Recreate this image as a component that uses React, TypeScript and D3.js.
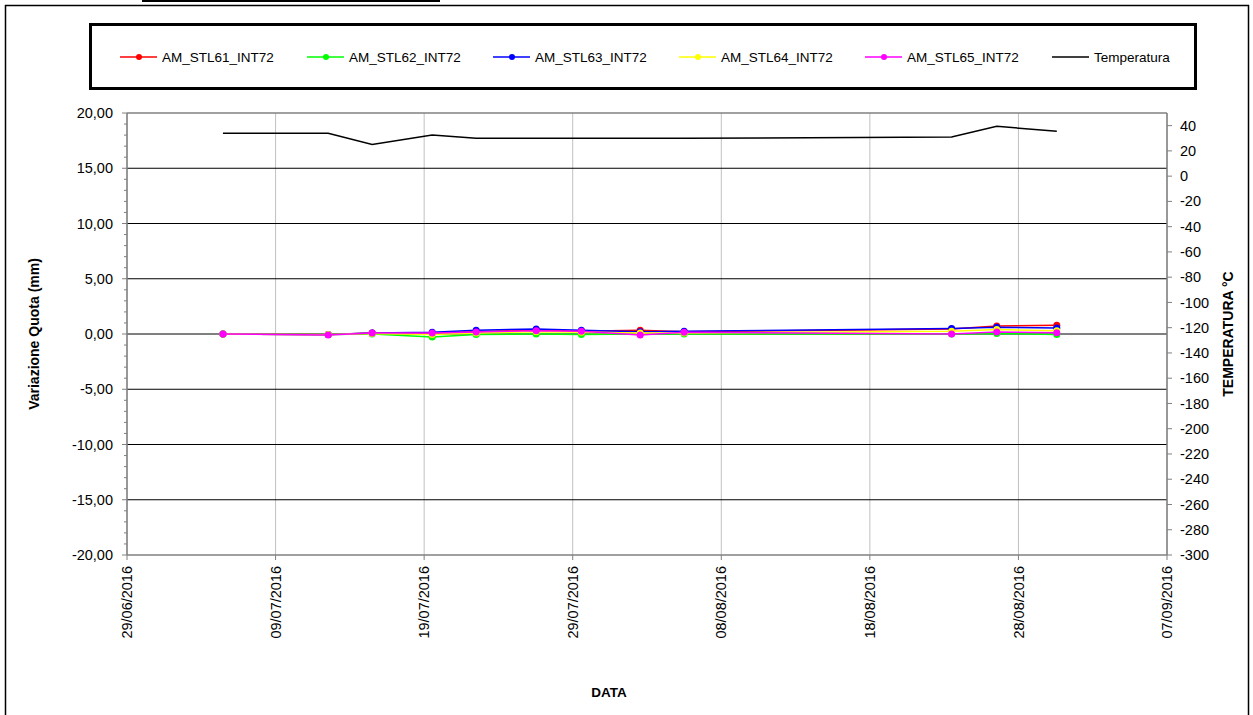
import React from "react";
import * as d3 from "d3";

const DATES = [
  "2016-07-05T11:00", "2016-07-12T13:00", "2016-07-15T12:00", "2016-07-19T13:00",
  "2016-07-22T12:00", "2016-07-26T13:00", "2016-07-29T14:00", "2016-08-02T13:00",
  "2016-08-05T12:00", "2016-08-23T12:00", "2016-08-26T13:00", "2016-08-30T14:00",
];
const STL61 = [0.0, -0.05, 0.1, 0.1, 0.2, 0.35, 0.25, 0.35, 0.2, 0.45, 0.72, 0.8];
const STL62 = [0.0, -0.05, 0.0, -0.27, -0.05, 0.0, -0.05, 0.0, 0.0, 0.0, 0.05, -0.05];
const STL63 = [0.0, -0.05, 0.1, 0.15, 0.35, 0.45, 0.35, 0.2, 0.25, 0.5, 0.6, 0.55];
const STL64 = [0.0, -0.05, 0.05, -0.05, 0.1, 0.2, 0.15, 0.1, 0.1, 0.25, 0.4, 0.3];
const STL65 = [0.0, -0.1, 0.1, 0.1, 0.18, 0.3, 0.25, -0.1, 0.15, 0.0, 0.18, 0.12];
const TEMPERATURA = [34, 34, 25, 32.5, 30, 30, 30, 30, 30, 31, 39.5, 35.5];

const SERIES_NAMES = ["AM_STL61_INT72", "AM_STL62_INT72", "AM_STL63_INT72", "AM_STL64_INT72", "AM_STL65_INT72"];
const SERIES_VALUES = [STL61, STL62, STL63, STL64, STL65];
const SERIES_COLORS = ["#ff0000", "#00ff00", "#0000ff", "#ffff00", "#ff00ff"];

const X_TICKS = ["2016-06-29", "2016-07-09", "2016-07-19", "2016-07-29", "2016-08-08", "2016-08-18", "2016-08-28", "2016-09-07"];
const LEFT_TICKS = [-20, -15, -10, -5, 0, 5, 10, 15, 20];
const RIGHT_TICKS = d3.range(-300, 41, 20);

const FONT = "'Liberation Sans', Arial, sans-serif";

const parse = (s: string) => new Date(s.length > 10 ? s + ":00Z" : s + "T00:00:00Z");

export default function App() {
  const L = 127, R = 1167, T = 113, B = 555;
  const x = d3.scaleUtc().domain([parse(X_TICKS[0]), parse(X_TICKS[X_TICKS.length - 1])]).range([L, R]);
  const yL = d3.scaleLinear().domain([-20, 20]).range([B, T]);
  const yR = d3.scaleLinear().domain([-300, 50]).range([B, T]);
  const dates = DATES.map(parse);
  const fmtL = (v: number) => d3.format(".2f")(v).replace(".", ",").replace("−", "-");
  const fmtDate = (s: string) => {
    const d = parse(s);
    return d3.utcFormat("%d/%m/%Y")(d);
  };
  const lineL = d3.line<number>().x((_, i) => x(dates[i])).y((v) => yL(v));
  const lineR = d3.line<number>().x((_, i) => x(dates[i])).y((v) => yR(v));
  const minorTicks = d3.range(-20, 20.01, 1).filter((v) => v % 5 !== 0);

  const legendItems = [
    { name: SERIES_NAMES[0], color: SERIES_COLORS[0], x0: 120, marker: true },
    { name: SERIES_NAMES[1], color: SERIES_COLORS[1], x0: 307, marker: true },
    { name: SERIES_NAMES[2], color: SERIES_COLORS[2], x0: 493, marker: true },
    { name: SERIES_NAMES[3], color: SERIES_COLORS[3], x0: 679, marker: true },
    { name: SERIES_NAMES[4], color: SERIES_COLORS[4], x0: 865, marker: true },
    { name: "Temperatura", color: "#000000", x0: 1052, marker: false },
  ];

  return (
    <div style={{ position: "absolute", left: 0, top: 0 }}>
      <svg width={1253} height={715} style={{ display: "block", fontFamily: FONT }}>
        <rect x={0} y={0} width={1253} height={715} fill="#fff" />
        <rect x={142} y={-5} width={298} height={7} fill="#000" />
        <rect x={5.5} y={5.5} width={1243} height={712} fill="none" stroke="#000" strokeWidth={1.5} />

        {/* legend */}
        <rect x={90.5} y={24.5} width={1105} height={64} fill="#fff" stroke="#000" strokeWidth={3} />
        {legendItems.map((it) => (
          <g key={it.name}>
            <line x1={it.x0} x2={it.x0 + 37} y1={57} y2={57} stroke={it.color} strokeWidth={1.5} />
            {it.marker && <circle cx={it.x0 + 19} cy={57} r={3} fill={it.color} />}
            <text x={it.x0 + 42} y={57} dy="0.35em" fontSize={13.5} fill="#000">{it.name}</text>
          </g>
        ))}

        {/* vertical gridlines */}
        {X_TICKS.map((t) => (
          <line key={"vg" + t} x1={x(parse(t))} x2={x(parse(t))} y1={T} y2={B} stroke="#c0c0c0" strokeWidth={1} />
        ))}
        {/* horizontal gridlines */}
        {LEFT_TICKS.filter((v) => v !== -20 && v !== 20).map((v) => (
          <line key={"hg" + v} x1={L} x2={R} y1={yL(v)} y2={yL(v)} stroke="#000" strokeWidth={1} />
        ))}
        {/* plot border */}
        <line x1={L} x2={R} y1={T} y2={T} stroke="#808080" strokeWidth={1.5} />
        <line x1={R} x2={R} y1={T} y2={B} stroke="#808080" strokeWidth={1.5} />
        <line x1={L} x2={L} y1={T} y2={B} stroke="#808080" strokeWidth={1.5} />
        <line x1={L} x2={R} y1={B} y2={B} stroke="#808080" strokeWidth={1.5} />

        {/* left axis ticks */}
        {LEFT_TICKS.map((v) => (
          <g key={"lt" + v}>
            <line x1={L - 5} x2={L} y1={yL(v)} y2={yL(v)} stroke="#808080" />
            <text x={113} y={yL(v)} dy="0.35em" textAnchor="end" fontSize={14.5}>{fmtL(v)}</text>
          </g>
        ))}
        {minorTicks.map((v) => (
          <line key={"mt" + v} x1={L - 3} x2={L} y1={yL(v)} y2={yL(v)} stroke="#808080" />
        ))}
        {/* right axis ticks */}
        {RIGHT_TICKS.map((v) => (
          <g key={"rt" + v}>
            <line x1={R} x2={R + 5} y1={yR(v)} y2={yR(v)} stroke="#808080" />
            <text x={1180} y={yR(v)} dy="0.35em" textAnchor="start" fontSize={14.5}>{v}</text>
          </g>
        ))}
        {/* x axis ticks */}
        {X_TICKS.map((t) => (
          <g key={"xt" + t}>
            <line x1={x(parse(t))} x2={x(parse(t))} y1={B} y2={B + 5} stroke="#808080" />
            <text transform={`translate(${x(parse(t))},${566}) rotate(-90)`} dy="0.35em" textAnchor="end" fontSize={14.5}>
              {fmtDate(t)}
            </text>
          </g>
        ))}

        {/* temperature */}
        <path d={lineR(TEMPERATURA) || ""} fill="none" stroke="#000" strokeWidth={1.5} />

        {/* series */}
        {SERIES_VALUES.map((vals, si) => (
          <g key={"s" + si}>
            <path d={lineL(vals) || ""} fill="none" stroke={SERIES_COLORS[si]} strokeWidth={1.5} />
            {vals.map((v, i) => (
              <circle key={i} cx={x(dates[i])} cy={yL(v)} r={3.5} fill={SERIES_COLORS[si]} />
            ))}
          </g>
        ))}

        {/* axis titles */}
        <text transform={`translate(34,${(T + B) / 2}) rotate(-90)`} dy="0.35em" textAnchor="middle" fontSize={14} fontWeight="bold">
          Variazione Quota (mm)
        </text>
        <text transform={`translate(1228,${(T + B) / 2}) rotate(-90)`} dy="0.35em" textAnchor="middle" fontSize={14} fontWeight="bold">
          TEMPERATURA °C
        </text>
        <text x={609} y={692} dy="0.35em" textAnchor="middle" fontSize={13.5} fontWeight="bold">DATA</text>
      </svg>
    </div>
  );
}
